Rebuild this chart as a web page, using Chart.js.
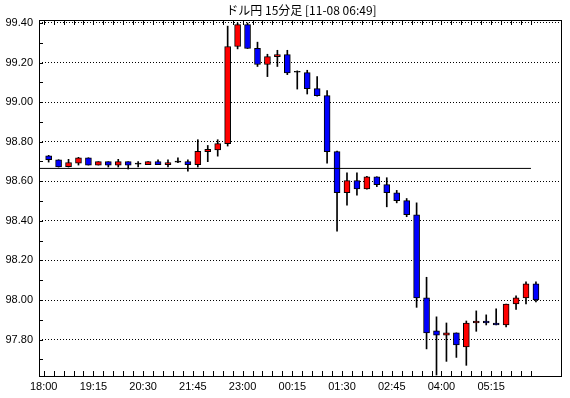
<!DOCTYPE html>
<html><head><meta charset="utf-8">
<script src="https://cdn.jsdelivr.net/npm/chart.js@4.4.1/dist/chart.umd.min.js"></script>
<style>html,body{margin:0;padding:0;background:#fff;} canvas{display:block;}</style>
</head><body>
<canvas id="c" width="570" height="398"></canvas>
<script>
const chartTitle = 'ドル円 15分足 [11-08 06:49]';
const times = ['18:00','18:15','18:30','18:45','19:00','19:15','19:30','19:45','20:00','20:15','20:30','20:45','21:00','21:15','21:30','21:45','22:00','22:15','22:30','22:45','23:00','23:15','23:30','23:45','00:00','00:15','00:30','00:45','01:00','01:15','01:30','01:45','02:00','02:15','02:30','02:45','03:00','03:15','03:30','03:45','04:00','04:15','04:30','04:45','05:00','05:15','05:30','05:45','06:00','06:15'];
const openP  = [98.729,98.709,98.674,98.692,98.719,98.682,98.699,98.682,98.699,98.687,98.684,98.700,98.684,98.697,98.700,98.684,98.750,98.758,98.790,99.281,99.392,99.272,99.190,99.230,99.240,99.151,99.149,99.068,99.033,98.750,98.542,98.603,98.562,98.623,98.583,98.542,98.502,98.431,98.011,97.844,97.823,97.834,97.763,97.884,97.894,97.884,97.874,97.980,98.011,98.082];
const highP  = [98.731,98.709,98.711,98.721,98.719,98.699,98.699,98.711,98.699,98.699,98.699,98.709,98.709,98.719,98.709,98.810,98.781,98.810,99.384,99.400,99.400,99.303,99.242,99.262,99.262,99.158,99.161,99.129,99.058,98.752,98.643,98.643,98.625,98.623,98.618,98.554,98.513,98.491,98.115,97.915,97.884,97.834,97.894,97.945,97.925,97.955,97.980,98.021,98.092,98.092];
const lowP   = [98.697,98.672,98.672,98.682,98.682,98.682,98.672,98.672,98.662,98.672,98.684,98.684,98.672,98.694,98.651,98.672,98.699,98.727,98.778,99.269,99.271,99.180,99.129,99.180,99.139,99.066,99.041,99.030,98.692,98.348,98.479,98.530,98.560,98.573,98.471,98.491,98.421,97.963,97.753,97.621,97.690,97.710,97.670,97.842,97.874,97.874,97.864,97.953,97.980,97.991];
const closeP = [98.709,98.672,98.695,98.719,98.682,98.699,98.682,98.699,98.682,98.687,98.699,98.684,98.694,98.697,98.684,98.751,98.761,98.790,99.281,99.392,99.271,99.190,99.230,99.240,99.147,99.151,99.068,99.033,98.750,98.542,98.603,98.562,98.623,98.583,98.542,98.502,98.431,98.011,97.834,97.823,97.834,97.773,97.884,97.894,97.884,97.874,97.980,98.011,98.082,98.001];
const xTickLabels = ['18:00','19:15','20:30','21:45','23:00','00:15','01:30','02:45','04:00','05:15'];
const yTickValues = [97.80,98.00,98.20,98.40,98.60,98.80,99.00,99.20,99.40];
const yMinorTicks = [97.70,97.80,97.90,98.00,98.10,98.20,98.30,98.40,98.50,98.60,98.70,98.80,98.90,99.00,99.10,99.20,99.30,99.40];
const refLevel = 98.665;
const refEndTime = '06:15';

const UP = '#FF0000', DOWN = '#0000FF', FLAT = '#000000';
const xMin = -0.47, xMax = 52.12, yMin = 97.611, yMax = 99.415;

const bodyColors = openP.map((o,i)=> closeP[i] > o ? UP : (closeP[i] < o ? DOWN : FLAT));

const framePlugin = {
  id: 'frame',
  afterDraw(chart) {
    const ctx = chart.ctx, a = chart.chartArea, xs = chart.scales.x, ys = chart.scales.y;
    ctx.save();
    ctx.strokeStyle = '#000'; ctx.lineWidth = 1;
    ctx.strokeRect(a.left + 0.5, a.top + 0.5, a.right - a.left - 1, a.bottom - a.top - 1);
    ctx.beginPath();
    xs.ticks.forEach(t => {
      const px = Math.round(xs.getPixelForValue(t.value)) + 0.5;
      ctx.moveTo(px, a.bottom); ctx.lineTo(px, a.bottom - 6);
      ctx.moveTo(px, a.top); ctx.lineTo(px, a.top + 5);
    });
    yMinorTicks.forEach(v => {
      const py = Math.round(ys.getPixelForValue(v)) + 0.5;
      ctx.moveTo(a.left, py); ctx.lineTo(a.left + 4, py);
    });
    ctx.stroke();
    ctx.fillStyle = '#000';
    ctx.font = '12px "Noto Sans CJK JP"';
    ctx.textAlign = 'center'; ctx.textBaseline = 'middle';
    ctx.fillText(chartTitle, (a.left + a.right) / 2 + 1, 10);
    ctx.restore();
  }
};

new Chart(document.getElementById('c'), {
  type: 'bar',
  data: {
    datasets: [
      {
        type: 'line', order: 0,
        data: [{x: xMin, y: refLevel}, {x: times.indexOf(refEndTime), y: refLevel}],
        borderColor: '#000', borderWidth: 1, pointRadius: 0, fill: false
      },
      {
        type: 'bar', order: 1, grouped: false,
        data: times.map((t,i)=>({x: i + 0.5, y: [openP[i], closeP[i]]})),
        backgroundColor: bodyColors, borderColor: '#000', borderWidth: 1,
        borderSkipped: false, barThickness: 6, minBarLength: 1
      },
      {
        type: 'bar', order: 2, grouped: false,
        data: times.map((t,i)=>({x: i + 0.5, y: [lowP[i], highP[i]]})),
        backgroundColor: '#000', borderWidth: 0, barThickness: 1
      }
    ]
  },
  options: {
    responsive: false, animation: false, devicePixelRatio: 1,
    layout: { padding: { top: 20, right: 8, left: 0, bottom: 0 } },
    plugins: { legend: { display: false }, tooltip: { enabled: false }, title: { display: false } },
    scales: {
      x: {
        type: 'linear', min: xMin, max: xMax, offset: false,
        grid: { display: false, drawTicks: false }, border: { display: false },
        afterBuildTicks: s => { s.ticks = times.map((t,k)=>({value: k})); },
        afterFit: s => { s.height = 21; },
        ticks: {
          autoSkip: false, maxRotation: 0, minRotation: 0, padding: 3,
          color: '#000', font: { family: 'Liberation Sans', size: 11 },
          callback: v => xTickLabels.includes(times[v]) ? times[v] : ''
        }
      },
      y: {
        type: 'linear', min: yMin, max: yMax,
        grid: { color: '#000', lineWidth: 1, drawTicks: false },
        border: { display: false, dash: [1, 2] },
        afterBuildTicks: s => { s.ticks = yTickValues.map(v=>({value: v})); },
        afterFit: s => { s.width = 39; },
        ticks: {
          padding: 6, color: '#000', font: { family: 'Liberation Sans', size: 11 },
          callback: v => Number(v).toFixed(2)
        }
      }
    }
  },
  plugins: [framePlugin]
});
</script>
</body></html>
